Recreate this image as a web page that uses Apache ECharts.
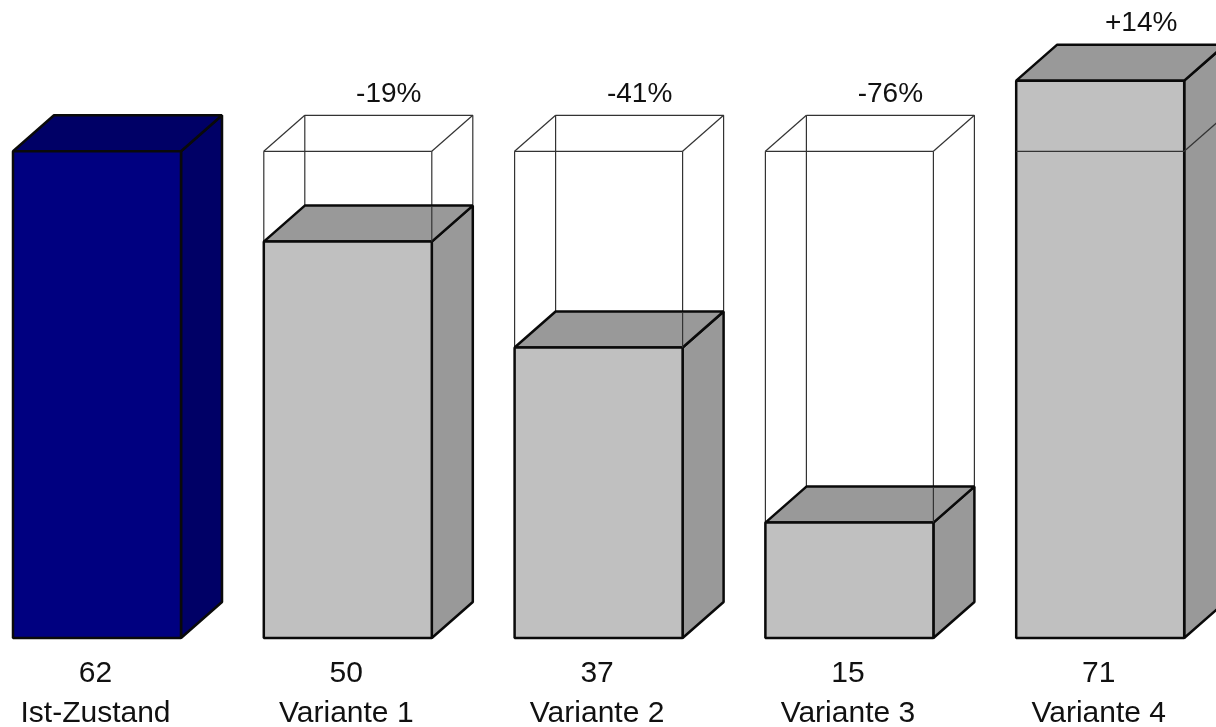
<!DOCTYPE html>
<html>
<head>
<meta charset="utf-8">
<style>html,body{margin:0;padding:0;background:#fff}#c{width:1216px;height:727px}</style>
<script src="https://cdn.jsdelivr.net/npm/echarts@6/dist/echarts.min.js"></script>
</head>
<body>
<div id="c"></div>
<script>
const categories = ['Ist-Zustand', 'Variante 1', 'Variante 2', 'Variante 3', 'Variante 4'];
const barHeights = [62, 50.5, 37, 14.7, 71];
const valueLabels = ['62', '50', '37', '15', '71'];
const changeLabels = ['', '-19%', '-41%', '-76%', '+14%'];
const referenceValue = 62;

const FONT = '"Liberation Sans", Arial, sans-serif';
const DX = 41, DY = 36, BAR_W = 168;
const DARK = '#0a0a0a';

function line(x1, y1, x2, y2, w, color) {
  return { type: 'line', shape: { x1, y1, x2, y2 }, style: { stroke: color || DARK, lineWidth: w, fill: null } };
}
function poly(points, fill, w) {
  return { type: 'polygon', shape: { points }, style: { fill, stroke: DARK, lineWidth: w, lineJoin: 'bevel' } };
}

function renderItem(params, api) {
  const i = params.dataIndex;
  const [cx, y0] = api.coord([i, 0]);
  const yTop = api.coord([i, api.value(1)])[1];
  const yRef = api.coord([i, referenceValue])[1];
  const l = cx - BAR_W / 2, r = cx + BAR_W / 2;
  const isRef = i === 0;
  const front = isRef ? '#000080' : '#c0c0c0';
  const shade = isRef ? '#000066' : '#999999';
  const kids = [];
  const thin = 1.2, thick = 2.5;
  const ghostColor = '#333333';
  const over = api.value(1) > referenceValue;

  if (!isRef && !over) {
    // wireframe of the reference block, behind the bar
    kids.push(line(l, y0, l, yRef, thin, ghostColor));
    kids.push(line(r, yRef, r, yTop, thin, ghostColor));
    kids.push(line(l, yRef, r, yRef, thin, ghostColor));
    kids.push(line(l, yRef, l + DX, yRef - DY, thin, ghostColor));
    kids.push(line(r, yRef, r + DX, yRef - DY, thin, ghostColor));
    kids.push(line(l + DX, yRef - DY, r + DX, yRef - DY, thin, ghostColor));
    kids.push(line(l + DX, yRef - DY, l + DX, yTop - DY, thin, ghostColor));
    kids.push(line(r + DX, yRef - DY, r + DX, yTop - DY, thin, ghostColor));
  }
  kids.push(poly([[r, y0], [r + DX, y0 - DY], [r + DX, yTop - DY], [r, yTop]], shade, thick));
  kids.push(poly([[l, yTop], [l + DX, yTop - DY], [r + DX, yTop - DY], [r, yTop]], shade, thick));
  kids.push(poly([[l, y0], [r, y0], [r, yTop], [l, yTop]], front, thick));
  if (!isRef && !over) {
    // front-right edge of the wireframe stays visible across the top face
    kids.push(line(r, yTop, r, yTop - DY + 1, thin, ghostColor));
  }
  if (over) {
    kids.push(line(l, yRef, r, yRef, thin, '#333333'));
    kids.push(line(r, yRef, r + DX, yRef - DY, thin, '#333333'));
  }
  const change = changeLabels[i];
  if (change) {
    const labelY = Math.min(yTop, yRef) - DY - 21;
    kids.push({
      type: 'text',
      style: { text: change, x: cx + DX, y: labelY, align: 'center', verticalAlign: 'middle',
               font: '28px ' + FONT, fill: '#111' }
    });
  }
  return { type: 'group', children: kids };
}

const chart = echarts.init(document.getElementById('c'), null, { renderer: 'canvas' });
chart.setOption({
  animation: false,
  backgroundColor: '#fff',
  grid: { left: -28.4, width: 1254, top: 10, bottom: 89, containLabel: false, outerBoundsMode: 'none' },
  xAxis: {
    type: 'category',
    data: categories,
    axisLine: { show: false },
    axisTick: { show: false },
    axisLabel: {
      interval: 0,
      margin: 16,
      hideOverlap: false,
      color: '#111',
      fontFamily: '"Liberation Sans", Arial, sans-serif',
      fontSize: 30,
      lineHeight: 40,
      padding: [0, 3, 0, 0],
      formatter: (name, idx) => valueLabels[idx] + '\n' + name
    }
  },
  yAxis: { type: 'value', min: 0, max: 80, show: false, splitLine: { show: false } },
  series: [{
    type: 'custom',
    clip: false,
    silent: true,
    renderItem,
    encode: { x: 0, y: 1 },
    data: barHeights.map((v, i) => [i, v])
  }]
});
</script>
</body>
</html>
